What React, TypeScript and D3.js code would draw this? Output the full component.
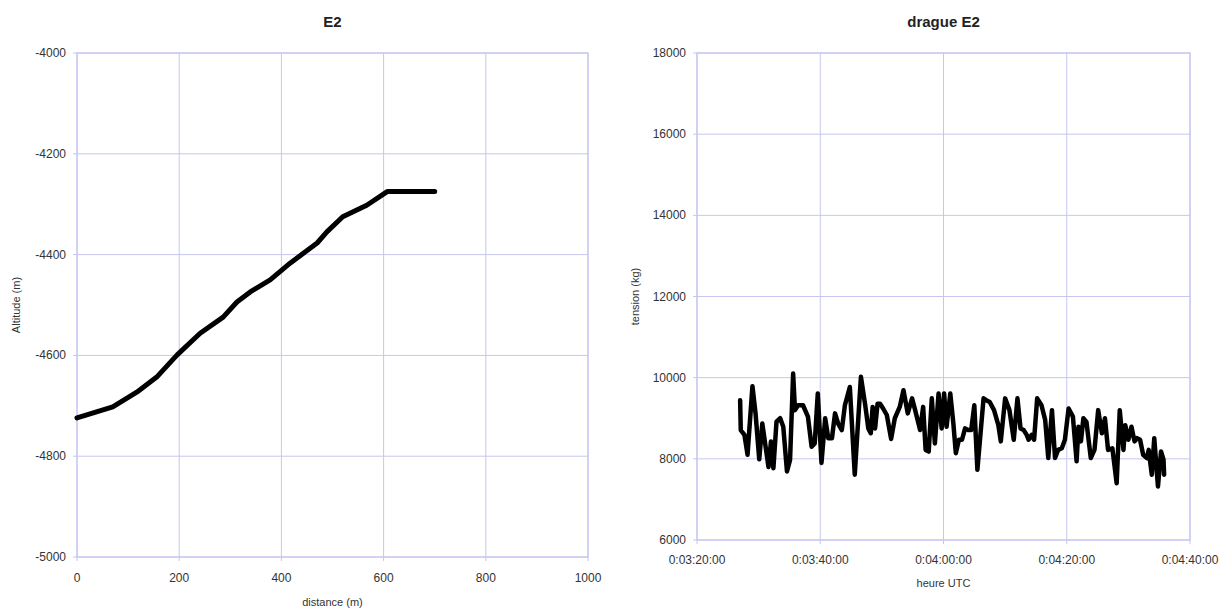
import React from "react";
import * as d3 from "d3";

// Left chart: altitude profile
const distance = [0, 70, 117, 156, 196, 241, 286, 313, 339, 378, 417, 470, 489, 520, 567, 607, 700];
const altitude = [-4724, -4702, -4673, -4643, -4599, -4556, -4524, -4494, -4474, -4450, -4417, -4377, -4355, -4325, -4302, -4275, -4275];
const altTicks = [-4000, -4200, -4400, -4600, -4800, -5000];
const distTicks = [0, 200, 400, 600, 800, 1000];

// Right chart: tension vs time (seconds since 0:00)
const timeSec = [
  207.0, 207.1, 207.7, 208.2, 209.0, 209.5, 210.1, 210.6, 211.6, 212.0, 212.4, 212.9, 213.5, 214.0, 214.6, 215.1,
  215.6, 215.9, 216.4, 217.2, 218.0, 218.6, 219.1, 219.6, 220.0, 220.2, 220.8, 221.3, 221.9, 222.4, 222.9, 223.5,
  224.0, 224.8, 225.6, 226.6, 227.3, 227.8, 228.2, 228.5, 228.9, 229.3, 229.7, 230.2, 230.8, 231.5, 232.1, 232.9,
  233.5, 234.2, 234.9, 235.4, 236.2, 236.7, 237.1, 237.6, 238.1, 238.6, 239.2, 239.7, 240.1, 240.5, 241.1, 241.6,
  242.0, 242.5, 243.0, 243.5, 244.0, 244.5, 245.0, 245.5, 246.5, 247.0, 247.5, 248.2, 248.9, 249.3, 250.0, 250.7,
  251.4, 252.0, 252.5, 253.0, 253.5, 253.8, 254.3, 254.7, 255.2, 255.9, 256.5, 257.0, 257.6, 258.1, 258.6, 259.2,
  259.7, 260.3, 261.0, 261.6, 261.9, 262.3, 262.7, 263.2, 263.9, 264.5, 265.1, 265.7, 266.2, 266.7, 267.4, 268.1,
  268.6, 269.2, 269.5, 270.0, 270.5, 271.0, 271.4, 271.9, 272.4, 273.0, 273.3, 273.8, 274.2, 274.8, 275.3, 275.7,
  275.8,
];
const tension = [
  9445, 8710, 8590, 8100, 9790, 9120, 7990, 8870, 7800, 8425, 7770, 8915, 9000, 8790, 7690, 7975,
  10100, 9200, 9320, 9320, 9040, 8300, 8380, 9610, 8470, 7900, 9000, 8510, 8510, 9120, 8870, 8710,
  9320, 9770, 7610, 10020, 9320, 8750, 8630, 9280, 8750, 9360, 9360, 9240, 9080, 8490, 9000, 9280,
  9690, 9120, 9490, 9200, 8710, 9280, 8220, 8180, 9490, 8380, 9610, 8750, 9610, 8790, 9610, 8870,
  8140, 8470, 8470, 8750, 8710, 8710, 9320, 7730, 9490, 9440, 9400, 9200, 8830, 8430, 9490, 9200,
  8470, 9490, 8750, 8710, 8590, 8470, 8590, 8470, 9490, 9320, 8960, 8020, 9200, 8020, 8220, 8260,
  8470, 9240, 9040, 7940, 8790, 8430, 9000, 8910, 8020, 8220, 9200, 8630, 9000, 8220, 8260, 7400,
  9200, 8220, 8830, 8470, 8790, 8430, 8510, 8470, 8100, 8020, 8220, 7610, 8510, 7320, 8180, 7980,
  7610,
];
const tensionTicks = [6000, 8000, 10000, 12000, 14000, 16000, 18000];
const timeTicks = [200, 220, 240, 260, 280];

const GRID = "#c6c6f0";
const FONT = "Liberation Sans, Arial, sans-serif";

function fmtTime(s: number) {
  const h = Math.floor(s / 3600);
  const m = Math.floor((s % 3600) / 60);
  const sec = Math.floor(s % 60);
  return `${h}:${String(m).padStart(2, "0")}:${String(sec).padStart(2, "0")}:00`;
}

type PanelProps = {
  left: number; right: number; top: number; bottom: number;
  xDomain: [number, number]; yDomain: [number, number];
  xTicks: number[]; yTicks: number[];
  xFmt: (v: number) => string;
  xs: number[]; ys: number[];
  title: string; xTitle: string; yTitle: string;
  xLabelY: number; xTitleY: number; yTitleX: number; yLabelX: number;
  strokeW: number;
};

function Panel(p: PanelProps) {
  const x = d3.scaleLinear().domain(p.xDomain).range([p.left, p.right]);
  const y = d3.scaleLinear().domain(p.yDomain).range([p.bottom, p.top]);
  const pts: [number, number][] = p.xs.map((v, i) => [v, p.ys[i]]);
  const line = d3.line<[number, number]>().x((d) => x(d[0])).y((d) => y(d[1]));
  const cx = (p.left + p.right) / 2;
  const cy = (p.top + p.bottom) / 2;
  return (
    <g>
      <text x={cx} y={27} textAnchor="middle" fontFamily={FONT} fontWeight="bold" fontSize={15} fill="#222">{p.title}</text>
      {p.yTicks.map((t) => (
        <g key={"y" + t}>
          <line x1={p.left - 4} x2={p.right} y1={y(t)} y2={y(t)} stroke={GRID} strokeWidth={1} />
          <text x={p.yLabelX} y={y(t) + 4} textAnchor="end" fontFamily={FONT} fontSize={12} fill="#333">{t}</text>
        </g>
      ))}
      {p.xTicks.map((t) => (
        <g key={"x" + t}>
          <line x1={x(t)} x2={x(t)} y1={p.top} y2={p.bottom + 4} stroke={GRID} strokeWidth={1} />
          <text x={x(t)} y={p.xLabelY} textAnchor="middle" fontFamily={FONT} fontSize={12} fill="#333">{p.xFmt(t)}</text>
        </g>
      ))}
      <rect x={p.left} y={p.top} width={p.right - p.left} height={p.bottom - p.top} fill="none" stroke={GRID} strokeWidth={1.2} />
      <path d={line(pts) || ""} fill="none" stroke="#000" strokeWidth={p.strokeW} strokeLinejoin="round" strokeLinecap="round" />
      <text x={cx} y={p.xTitleY} textAnchor="middle" fontFamily={FONT} fontSize={11} fill="#333">{p.xTitle}</text>
      <text transform={`translate(${p.yTitleX},${cy}) rotate(-90)`} textAnchor="middle" fontFamily={FONT} fontSize={11} fill="#333">{p.yTitle}</text>
    </g>
  );
}

export default function App() {
  return (
    <svg width={1231} height={612} style={{ position: "absolute", left: 0, top: 0, background: "#fff" }}>
      <rect width={1231} height={612} fill="#fff" />
      <Panel
        left={77} right={588} top={53} bottom={557}
        xDomain={[0, 1000]} yDomain={[-5000, -4000]}
        xTicks={distTicks} yTicks={altTicks}
        xFmt={(v) => String(v)}
        xs={distance} ys={altitude}
        title="E2" xTitle="distance (m)" yTitle="Altitude (m)"
        xLabelY={582} xTitleY={606} yTitleX={20} yLabelX={66}
        strokeW={5}
      />
      <Panel
        left={697} right={1190} top={53} bottom={540}
        xDomain={[200, 280]} yDomain={[6000, 18000]}
        xTicks={timeTicks} yTicks={tensionTicks}
        xFmt={fmtTime}
        xs={timeSec} ys={tension}
        title="drague E2" xTitle="heure UTC" yTitle="tension (kg)"
        xLabelY={564} xTitleY={587} yTitleX={639} yLabelX={686}
        strokeW={4.5}
      />
    </svg>
  );
}
